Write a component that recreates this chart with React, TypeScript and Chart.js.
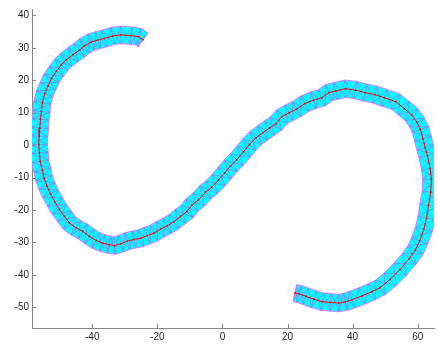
import React, { useEffect, useRef } from "react";
import { Chart, registerables } from "chart.js";

Chart.register(...registerables);

// Centerline of the band (start: top end of left arc)
const CENTER_X = [
  -24.4, -25.8, -28.1, -31.2, -33.7, -36.3, -38.3, -40.3, -42.4, -43.9,
  -45.9, -48.0, -49.5, -51.0, -52.5, -53.6, -54.6, -55.3, -55.6, -55.9,
  -56.1, -56.3, -56.4, -56.2, -56.0, -55.3, -54.8, -53.9, -52.8, -51.4,
  -50.1, -48.5, -47.0, -45.0, -42.9, -40.9, -38.8, -36.8, -34.8, -33.2,
  -31.2, -29.2, -27.1, -25.1, -23.1, -21.0, -19.0, -17.0, -14.9, -12.9,
  -10.9, -9.4, -7.3, -5.2, -3.3, -1.2, 0.7, 2.5, 4.4, 6.5,
  8.3, 10.2, 12.4, 14.5, 16.4, 18.3, 20.5, 22.8, 25.3, 28.0,
  30.5, 32.7, 34.8, 37.8, 40.9, 43.9, 46.9, 49.8, 53.3, 55.9,
  58.1, 59.8, 60.8, 61.6, 62.3, 63.0, 63.8, 64.2, 64.0, 63.3,
  62.7, 61.9, 60.6, 59.3, 57.4, 54.6, 51.5, 48.5, 45.9, 42.9,
  39.8, 37.8, 35.8, 33.2, 30.7, 28.1, 25.6, 23.6, 22.3,
];
const CENTER_Y = [
  32.5, 33.5, 33.8, 34.0, 33.7, 32.9, 32.4, 31.8, 30.6, 29.3,
  27.9, 26.3, 24.8, 22.8, 20.6, 18.2, 15.9, 13.1, 10.4, 8.0,
  5.3, 2.8, 0.2, -2.4, -5.0, -7.7, -10.2, -12.6, -15.0, -17.6,
  -19.8, -22.0, -24.0, -25.5, -26.6, -28.1, -29.4, -30.2, -30.7, -31.0,
  -30.4, -29.6, -29.1, -28.7, -27.9, -27.1, -25.9, -24.9, -23.6, -22.0,
  -20.5, -18.5, -16.8, -14.5, -13.0, -10.8, -8.6, -6.4, -4.5, -2.0,
  0.2, 2.2, 3.8, 5.3, 6.6, 8.8, 10.0, 11.1, 12.8, 13.9,
  14.6, 16.2, 16.7, 17.4, 17.0, 16.2, 15.6, 14.6, 13.4, 11.3,
  9.4, 7.0, 4.9, 2.0, -0.8, -3.3, -7.2, -10.5, -14.5, -18.6,
  -22.5, -26.0, -29.5, -32.3, -35.0, -38.3, -41.4, -43.9, -45.2, -46.5,
  -47.7, -48.3, -48.7, -48.5, -48.3, -47.5, -46.6, -45.9, -45.6,
];

const X_TICKS = [-40, -20, 0, 20, 40, 60];
const Y_TICKS = [-50, -40, -30, -20, -10, 0, 10, 20, 30, 40];
const X_MIN = -58.5;
const X_MAX = 65;
const Y_MIN = -56.4;
const Y_MAX = 42;

const BAND_HALF_PX = 8.7;
const AXIS_COLOR = "#868686";

const bandPlugin = {
  id: "band",
  beforeDatasetsDraw(chart: any) {
    const meta = chart.getDatasetMeta(0);
    const pts = meta.data.map((p: any) => ({ x: p.x, y: p.y }));
    const n = pts.length;
    if (n < 2) return;
    const L: { x: number; y: number }[] = [];
    const R: { x: number; y: number }[] = [];
    for (let i = 0; i < n; i++) {
      const a = pts[Math.max(0, i - 1)];
      const b = pts[Math.min(n - 1, i + 1)];
      let tx = b.x - a.x;
      let ty = b.y - a.y;
      const len = Math.hypot(tx, ty) || 1;
      tx /= len;
      ty /= len;
      const nx = -ty;
      const ny = tx;
      L.push({ x: pts[i].x + nx * BAND_HALF_PX, y: pts[i].y + ny * BAND_HALF_PX });
      R.push({ x: pts[i].x - nx * BAND_HALF_PX, y: pts[i].y - ny * BAND_HALF_PX });
    }
    const ctx = chart.ctx;
    const area = chart.chartArea;
    ctx.save();
    ctx.beginPath();
    ctx.rect(area.left, area.top, area.right - area.left, area.bottom - area.top);
    ctx.clip();
    // fill
    ctx.beginPath();
    ctx.moveTo(L[0].x, L[0].y);
    for (let i = 1; i < n; i++) ctx.lineTo(L[i].x, L[i].y);
    for (let i = n - 1; i >= 0; i--) ctx.lineTo(R[i].x, R[i].y);
    ctx.closePath();
    ctx.fillStyle = "#00ffff";
    ctx.fill();
    // inner triangulation
    ctx.lineWidth = 0.8;
    ctx.strokeStyle = "rgba(150,105,255,0.8)";
    ctx.beginPath();
    for (let i = 0; i < n; i++) {
      ctx.moveTo(L[i].x, L[i].y);
      ctx.lineTo(R[i].x, R[i].y);
      if (i < n - 1) {
        ctx.moveTo(L[i].x, L[i].y);
        ctx.lineTo(R[i + 1].x, R[i + 1].y);
        ctx.moveTo(R[i].x, R[i].y);
        ctx.lineTo(L[i + 1].x, L[i + 1].y);
      }
    }
    ctx.stroke();
    // outline
    ctx.lineWidth = 1;
    ctx.strokeStyle = "rgba(225,110,255,0.95)";
    ctx.beginPath();
    ctx.moveTo(L[0].x, L[0].y);
    for (let i = 1; i < n; i++) ctx.lineTo(L[i].x, L[i].y);
    for (let i = n - 1; i >= 0; i--) ctx.lineTo(R[i].x, R[i].y);
    ctx.closePath();
    ctx.stroke();
    ctx.restore();
  },
};

const innerTicksPlugin = {
  id: "innerTicks",
  afterDraw(chart: any) {
    const ctx = chart.ctx;
    const xs = chart.scales.x;
    const ys = chart.scales.y;
    const area = chart.chartArea;
    ctx.save();
    ctx.strokeStyle = AXIS_COLOR;
    ctx.lineWidth = 1;
    ctx.beginPath();
    xs.ticks.forEach((t: any) => {
      const px = Math.round(xs.getPixelForValue(t.value)) + 0.5;
      ctx.moveTo(px, area.bottom);
      ctx.lineTo(px, area.bottom - 4);
    });
    ys.ticks.forEach((t: any) => {
      const py = Math.round(ys.getPixelForValue(t.value)) + 0.5;
      ctx.moveTo(area.left, py);
      ctx.lineTo(area.left + 4, py);
    });
    ctx.stroke();
    ctx.restore();
  },
};

export default function App() {
  const ref = useRef<HTMLCanvasElement | null>(null);

  useEffect(() => {
    if (!ref.current) return;
    const data = CENTER_X.map((x, i) => ({ x, y: CENTER_Y[i] }));
    const chart = new Chart(ref.current, {
      type: "scatter",
      data: {
        datasets: [
          {
            data,
            showLine: true,
            borderColor: "#ff0000",
            backgroundColor: "#ff0000",
            borderWidth: 1,
            pointRadius: 0.9,
            pointBorderWidth: 0,
            tension: 0,
          },
        ],
      },
      options: {
        responsive: false,
        animation: false,
        events: [],
        layout: { padding: { top: 5, right: 0, left: 0, bottom: 0 } },
        plugins: {
          legend: { display: false },
          tooltip: { enabled: false },
        },
        scales: {
          x: {
            type: "linear",
            min: X_MIN,
            max: X_MAX,
            afterBuildTicks: (s: any) => {
              s.ticks = X_TICKS.map((v) => ({ value: v }));
            },
            afterFit: (s: any) => {
              s.height = 19;
            },
            grid: { display: false, drawTicks: false },
            border: { display: true, color: AXIS_COLOR, width: 1 },
            ticks: {
              padding: 3,
              maxRotation: 0,
              autoSkip: false,
              color: "#222",
              font: { family: "'Liberation Sans', Arial, sans-serif", size: 10 },
            },
          },
          y: {
            type: "linear",
            min: Y_MIN,
            max: Y_MAX,
            afterBuildTicks: (s: any) => {
              s.ticks = Y_TICKS.map((v) => ({ value: v }));
            },
            afterFit: (s: any) => {
              s.width = 32;
            },
            grid: { display: false, drawTicks: false },
            border: { display: true, color: AXIS_COLOR, width: 1 },
            ticks: {
              padding: 3,
              autoSkip: false,
              color: "#222",
              font: { family: "'Liberation Sans', Arial, sans-serif", size: 10 },
            },
          },
        },
      },
      plugins: [bandPlugin, innerTicksPlugin],
    });
    return () => chart.destroy();
  }, []);

  return (
    <div style={{ position: "fixed", left: 0, top: 0, width: 438, height: 347, background: "#fff" }}>
      <canvas ref={ref} width={438} height={347} style={{ display: "block", width: 438, height: 347 }} />
    </div>
  );
}
